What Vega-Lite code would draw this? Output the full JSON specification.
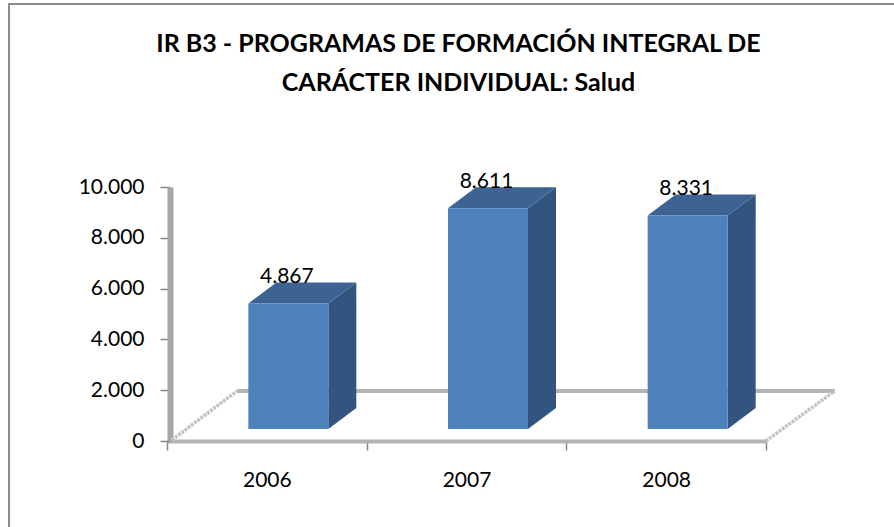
{
  "$schema": "https://vega.github.io/schema/vega-lite/v6.json",
  "width": 599,
  "height": 254,
  "autosize": "none",
  "padding": {"left": 167, "top": 187, "right": 128, "bottom": 86},
  "background": "#ffffff",
  "config": {
    "view": {"stroke": null},
    "font": "Lato",
    "locale": {"number": {"decimal": ",", "thousands": ".", "grouping": [3], "currency": ["", " €"]}}
  },
  "title": {
    "text": ["IR B3 - PROGRAMAS DE FORMACIÓN INTEGRAL DE", "CARÁCTER INDIVIDUAL: Salud"],
    "anchor": "middle",
    "dx": -8,
    "offset": -96,
    "fontSize": 25,
    "fontWeight": "bold",
    "font": "Lato",
    "color": "#000000",
    "lineHeight": 39
  },
  "data": {"values": [
    {"year": "2006", "value": 4867},
    {"year": "2007", "value": 8611},
    {"year": "2008", "value": 8331}
  ]},
  "encoding": {
    "x": {
      "field": "year",
      "type": "nominal",
      "scale": {"paddingInner": 0, "paddingOuter": 0},
      "axis": {
        "title": null,
        "labelAngle": 0,
        "tickBand": "extent",
        "tickSize": 9,
        "tickWidth": 1.5,
        "tickColor": "#868686",
        "domainColor": "#b4b4b4",
        "domainWidth": 4,
        "labelFontSize": 21,
        "labelFont": "Lato",
        "labelColor": "#000000",
        "labelPadding": 19
      }
    },
    "y": {
      "type": "quantitative",
      "scale": {"domain": [0, 10000]},
      "axis": {
        "title": null,
        "values": [0, 2000, 4000, 6000, 8000, 10000],
        "format": ",d",
        "offset": -3,
        "grid": false,
        "tickSize": 10,
        "tickWidth": 1.5,
        "tickColor": "#868686",
        "domainColor": "#a6a6a6",
        "domainWidth": 6,
        "labelFontSize": 21,
        "labelFont": "Lato",
        "labelColor": "#000000",
        "labelPadding": 16
      }
    }
  },
  "layer": [
    {
      "transform": [{"filter": "datum.year == '2006'"}],
      "mark": {"type": "point", "size": 4, "opacity": 1, "filled": false, "stroke": "#8c8c8c", "strokeWidth": 2, "shape": "M-257.8,90 L-257.8,-437 L640,-437"},
      "encoding": {"y": {"datum": 0}}
    },
    {
      "transform": [{"filter": "datum.year == '2006'"}],
      "mark": {"type": "point", "size": 4, "opacity": 1, "filled": false, "stroke": "#b4b4b4", "strokeWidth": 4, "shape": "M-29.8,-50 L568,-50"},
      "encoding": {"y": {"datum": 0}}
    },
    {
      "transform": [{"filter": "datum.year == '2006'"}],
      "mark": {"type": "point", "size": 4, "opacity": 1, "filled": false, "stroke": "#c4c4c4", "strokeWidth": 3.5, "strokeDash": [3, 1], "shape": "M-95,-1 L-29.8,-50 M499,0 L568,-50"},
      "encoding": {"y": {"datum": 0}}
    },
    {
      "mark": {"type": "point", "size": 4, "opacity": 1, "filled": true, "fill": "#31557f", "strokeWidth": 0, "shape": "M61.5,-33 L89.5,-33 L61.5,-12 Z"},
      "encoding": {"y": {"datum": 0}}
    },
    {
      "mark": {"type": "bar", "width": 28, "xOffset": 75.5, "yOffset": -14, "y2Offset": -33, "fill": "#31557f"},
      "encoding": {"y": {"field": "value", "type": "quantitative"}, "y2": {"datum": 0}}
    },
    {
      "mark": {"type": "point", "size": 4, "opacity": 1, "filled": true, "fill": "#31557f", "strokeWidth": 0, "shape": "M61.5,-14 L89.5,-35 L89.5,-13 L61.5,-13 Z"},
      "encoding": {"y": {"field": "value", "type": "quantitative"}}
    },
    {
      "mark": {"type": "point", "size": 4, "opacity": 1, "filled": true, "fill": "#3c6394", "strokeWidth": 0, "shape": "M-18.5,-14 L61.5,-14 L89.5,-35 L9.5,-35 Z"},
      "encoding": {"y": {"field": "value", "type": "quantitative"}}
    },
    {
      "mark": {"type": "bar", "width": 80, "xOffset": 21.5, "yOffset": -14, "y2Offset": -12, "fill": "#4f81bd"},
      "encoding": {"y": {"field": "value", "type": "quantitative"}, "y2": {"datum": 0}}
    },
    {
      "mark": {"type": "text", "dx": 20, "dy": -34, "baseline": "alphabetic", "fontSize": 21, "font": "Lato", "color": "#000000"},
      "encoding": {
        "y": {"field": "value", "type": "quantitative"},
        "text": {"field": "value", "type": "quantitative", "format": ",d"}
      }
    }
  ]
}
